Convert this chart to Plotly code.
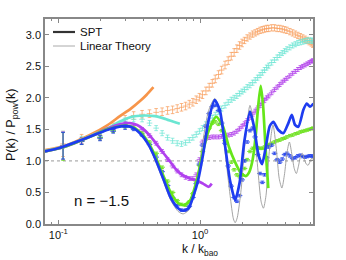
import plotly.graph_objects as go

# ---------------- data ----------------
k_data = [0.108, 0.146, 0.197, 0.244, 0.296,
          0.34, 0.39, 0.44, 0.49, 0.54, 0.59, 0.64, 0.69, 0.74, 0.79, 0.84, 0.89, 0.94, 0.99,
          1.04, 1.10, 1.16, 1.22, 1.28, 1.35, 1.42, 1.50, 1.58, 1.66, 1.74, 1.82, 1.90, 1.98,
          2.06, 2.15, 2.25, 2.35, 2.45, 2.55, 2.65, 2.75, 2.85, 2.95, 3.05,
          3.20, 3.35, 3.50, 3.65, 3.80, 3.95, 4.10,
          4.30, 4.50, 4.70, 4.90, 5.10, 5.30, 5.50, 5.70, 5.90, 6.10, 6.25]

orange_data = [1.27, 1.35, 1.40, 1.55, 1.66,
               1.72, 1.74, 1.75, 1.77, 1.78, 1.80, 1.81, 1.83, 1.85, 1.87, 1.90, 1.93, 1.97, 2.01,
               2.05, 2.11, 2.17, 2.23, 2.30, 2.37, 2.44, 2.52, 2.59, 2.66, 2.72, 2.78, 2.83, 2.87,
               2.91, 2.95, 2.98, 3.01, 3.03, 3.05, 3.07, 3.08, 3.09, 3.10, 3.10,
               3.11, 3.11, 3.10, 3.10, 3.09, 3.08, 3.07,
               3.05, 3.03, 3.01, 2.99, 2.97, 2.95, 2.93, 2.91, 2.89, 2.87, 2.85]
orange_err = [0.20, 0.07, 0.05, 0.05, 0.06,
              0.06, 0.06, 0.06, 0.06, 0.06, 0.06, 0.06, 0.06, 0.06, 0.06, 0.06, 0.06, 0.06, 0.06,
              0.06, 0.06, 0.06, 0.06, 0.06, 0.06, 0.06, 0.06, 0.06, 0.06, 0.06, 0.06, 0.06, 0.06,
              0.05, 0.05, 0.05, 0.05, 0.05, 0.05, 0.05, 0.05, 0.05, 0.05, 0.05,
              0.05, 0.05, 0.05, 0.05, 0.05, 0.05, 0.05,
              0.05, 0.05, 0.05, 0.05, 0.05, 0.05, 0.05, 0.05, 0.05, 0.05, 0.05]

cyan_data = [1.25, 1.33, 1.39, 1.53, 1.63,
             1.66, 1.66, 1.60, 1.52, 1.44, 1.37, 1.32, 1.28, 1.27, 1.29, 1.33, 1.37, 1.42, 1.47,
             1.52, 1.58, 1.63, 1.68, 1.73, 1.78, 1.83, 1.88, 1.93, 1.97, 2.00, 2.03, 2.07, 2.10,
             2.13, 2.17, 2.20, 2.24, 2.28, 2.32, 2.36, 2.40, 2.44, 2.48, 2.51,
             2.56, 2.60, 2.64, 2.68, 2.71, 2.74, 2.77,
             2.80, 2.83, 2.85, 2.87, 2.88, 2.89, 2.90, 2.91, 2.91, 2.91, 2.90]
cyan_err = [0.22, 0.06, 0.04, 0.04, 0.05,
            0.04, 0.04, 0.04, 0.04, 0.04, 0.04, 0.04, 0.04, 0.04, 0.04, 0.04, 0.04, 0.04, 0.04,
            0.04, 0.04, 0.04, 0.04, 0.04, 0.04, 0.04, 0.04, 0.04, 0.04, 0.04, 0.04, 0.04, 0.04,
            0.04, 0.04, 0.04, 0.04, 0.04, 0.04, 0.04, 0.04, 0.04, 0.04, 0.04,
            0.04, 0.04, 0.04, 0.04, 0.04, 0.04, 0.04,
            0.04, 0.04, 0.04, 0.04, 0.04, 0.04, 0.04, 0.04, 0.04, 0.04, 0.04]

purple_data = [1.24, 1.32, 1.37, 1.50, 1.58,
               1.56, 1.50, 1.40, 1.28, 1.15, 1.02, 0.92, 0.84, 0.78, 0.74, 0.72, 0.72, 0.78, 1.02,
               1.30, 1.36, 1.37, 1.38, 1.38, 1.38, 1.39, 1.40, 1.41, 1.42, 1.44, 1.47, 1.51, 1.55,
               1.59, 1.64, 1.69, 1.74, 1.79, 1.84, 1.88, 1.92, 1.96, 2.00, 2.03,
               2.08, 2.13, 2.17, 2.21, 2.25, 2.28, 2.31,
               2.35, 2.39, 2.42, 2.45, 2.48, 2.50, 2.52, 2.54, 2.56, 2.58, 2.59]
purple_err = [0.22, 0.05, 0.04, 0.04, 0.04,
              0.03, 0.03, 0.03, 0.03, 0.03, 0.03, 0.03, 0.03, 0.03, 0.03, 0.03, 0.03, 0.03, 0.03,
              0.03, 0.03, 0.03, 0.03, 0.03, 0.03, 0.03, 0.03, 0.03, 0.03, 0.03, 0.03, 0.03, 0.03,
              0.03, 0.03, 0.03, 0.03, 0.03, 0.03, 0.03, 0.03, 0.03, 0.03, 0.03,
              0.03, 0.03, 0.03, 0.03, 0.03, 0.03, 0.03,
              0.03, 0.03, 0.03, 0.03, 0.03, 0.03, 0.03, 0.03, 0.03, 0.03, 0.03]

green_data = [1.23, 1.31, 1.37, 1.48, 1.55,
              1.52, 1.44, 1.30, 1.12, 0.90, 0.68, 0.50, 0.37, 0.31, 0.30, 0.35, 0.48, 0.68, 0.93,
              1.15, 1.38, 1.52, 1.60, 1.62, 1.58, 1.48, 1.32, 1.15, 0.98, 0.86, 0.78, 0.75, 0.78,
              0.88, 1.02, 1.15, 1.20, 1.21, 1.21, 1.20, 1.20, 1.22, 1.24, 1.26,
              1.28, 1.30, 1.32, 1.33, 1.35, 1.36, 1.38,
              1.40, 1.41, 1.43, 1.44, 1.46, 1.47, 1.48, 1.49, 1.50, 1.51, 1.52]
green_err = [0.22, 0.05, 0.04, 0.03, 0.03,
             0.02, 0.02, 0.02, 0.02, 0.02, 0.02, 0.02, 0.02, 0.02, 0.02, 0.02, 0.02, 0.02, 0.02,
             0.02, 0.02, 0.02, 0.02, 0.02, 0.02, 0.02, 0.02, 0.02, 0.02, 0.02, 0.02, 0.02, 0.02,
             0.02, 0.02, 0.02, 0.02, 0.02, 0.02, 0.02, 0.02, 0.02, 0.02, 0.02,
             0.02, 0.02, 0.02, 0.02, 0.02, 0.02, 0.02,
             0.02, 0.02, 0.02, 0.02, 0.02, 0.02, 0.02, 0.02, 0.02, 0.02, 0.02]

blue_data = [1.24, 1.31, 1.36, 1.47, 1.53,
             1.50, 1.41, 1.26, 1.06, 0.83, 0.61, 0.42, 0.29, 0.22, 0.22, 0.28, 0.42, 0.64, 0.95,
             1.25, 1.55, 1.75, 1.86, 1.88, 1.80, 1.60, 1.28, 0.92, 0.60, 0.42, 0.36, 0.45, 0.70,
             1.00, 1.30, 1.48, 1.52, 1.38, 1.10, 0.80, 0.66, 0.78, 1.05, 1.22,
             1.25, 1.12, 1.02, 0.98, 1.03, 1.10, 1.12,
             1.08, 1.04, 1.05, 1.08, 1.09, 1.07, 1.06, 1.07, 1.08, 1.08, 1.07]
blue_err = [0.21, 0.05, 0.04, 0.03, 0.03,
            0.02, 0.02, 0.02, 0.02, 0.02, 0.02, 0.02, 0.02, 0.02, 0.02, 0.02, 0.02, 0.02, 0.02,
            0.02, 0.02, 0.02, 0.02, 0.02, 0.02, 0.02, 0.02, 0.02, 0.02, 0.02, 0.02, 0.02, 0.02,
            0.02, 0.02, 0.02, 0.02, 0.02, 0.02, 0.02, 0.02, 0.02, 0.02, 0.02,
            0.02, 0.02, 0.02, 0.02, 0.02, 0.02, 0.02,
            0.02, 0.02, 0.02, 0.02, 0.02, 0.02, 0.02, 0.02, 0.02, 0.02, 0.02]

# SPT predictions
orange_spt_k = [0.0805, 0.1115, 0.167, 0.22, 0.272, 0.325, 0.377, 0.42, 0.469]
orange_spt = [1.17, 1.24, 1.41, 1.56, 1.71, 1.83, 1.95, 2.05, 2.17]

cyan_spt_k = [0.0805, 0.11, 0.17, 0.22, 0.27, 0.33, 0.40, 0.48, 0.56, 0.65, 0.72]
cyan_spt = [1.16, 1.23, 1.40, 1.51, 1.62, 1.70, 1.72, 1.71, 1.67, 1.62, 1.59]

purple_spt_k = [0.0805, 0.11, 0.17, 0.22, 0.28, 0.32, 0.36, 0.40, 0.45, 0.52, 0.60,
                0.68, 0.76, 0.85, 0.95, 1.05, 1.15, 1.21]
purple_spt = [1.15, 1.22, 1.39, 1.51, 1.59, 1.60, 1.57, 1.50, 1.38, 1.20, 1.02,
              0.86, 0.77, 0.72, 0.69, 0.64, 0.59, 0.64]

green_spt_k = [0.0805, 0.11, 0.17, 0.22, 0.27, 0.30, 0.34, 0.38, 0.43, 0.48, 0.55, 0.62,
               0.70, 0.77, 0.85, 0.95, 1.05, 1.15, 1.30, 1.45, 1.60, 1.75, 1.95, 2.10,
               2.22, 2.35, 2.47, 2.58, 2.68, 2.78, 2.90, 3.03]
green_spt = [1.15, 1.22, 1.39, 1.50, 1.55, 1.56, 1.53, 1.45, 1.30, 1.09, 0.77, 0.50,
             0.33, 0.30, 0.37, 0.70, 1.15, 1.48, 1.70, 1.55, 1.22, 1.00, 0.80, 0.76,
             0.82, 1.02, 1.40, 1.90, 2.19, 1.90, 1.20, 0.57]

blue_spt_k = [0.0805, 0.10, 0.13, 0.17, 0.22, 0.27, 0.30, 0.34, 0.38, 0.43, 0.48, 0.55,
              0.62, 0.70, 0.76, 0.83, 0.90, 0.97, 1.05, 1.15, 1.27, 1.38, 1.50, 1.63,
              1.77, 1.90, 2.05, 2.25, 2.40, 2.58, 2.74, 2.90, 3.10, 3.29, 3.57, 3.87,
              4.20, 4.44, 4.68, 4.94, 5.36, 5.66, 5.97, 6.31]
blue_spt = [1.15, 1.20, 1.29, 1.39, 1.49, 1.545, 1.555, 1.52, 1.43, 1.27, 1.05, 0.72,
            0.42, 0.25, 0.21, 0.25, 0.45, 0.70, 1.10, 1.65, 1.965, 1.80, 1.25, 0.68,
            0.38, 0.65, 1.30, 1.78, 1.55, 1.10, 0.95, 1.20, 1.55, 1.62, 1.49, 1.44,
            1.60, 1.73, 1.57, 1.54, 1.81, 1.91, 1.86, 1.91]

# linear theory
lin_k = [0.0805, 0.10, 0.13, 0.17, 0.22, 0.27, 0.30, 0.34, 0.38, 0.43, 0.48, 0.55,
         0.62, 0.70, 0.76, 0.83, 0.90, 0.97, 1.05, 1.15, 1.27, 1.38, 1.50, 1.63,
         1.72, 1.77, 1.83, 1.95, 2.08, 2.25, 2.40, 2.55, 2.70, 2.80, 2.92, 3.08,
         3.27, 3.45, 3.62, 3.78, 3.95, 4.10, 4.27, 4.45, 4.62, 4.78, 4.95, 5.10,
         5.27, 5.45, 5.62, 5.78, 5.95, 6.12, 6.31]
lin_p = [1.15, 1.20, 1.29, 1.39, 1.49, 1.54, 1.545, 1.51, 1.42, 1.25, 1.02, 0.68,
         0.38, 0.20, 0.16, 0.22, 0.45, 0.82, 1.33, 1.80, 1.99, 1.80, 1.15, 0.45,
         0.08, 0.02, 0.10, 0.55, 1.30, 1.88, 1.55, 0.90, 0.35, 0.25, 0.45, 1.15,
         1.57, 1.20, 0.72, 0.57, 0.80, 1.12, 1.30, 1.10, 0.88, 0.80, 0.92, 1.06,
         1.12, 1.02, 0.95, 0.93, 0.98, 1.04, 1.02]

legend_labels = ["SPT", "Linear Theory"]
n_label = "n = \u22121.5"

# ---------------- figure ----------------
FONT = "Liberation Sans, Arial, sans-serif"
W, H = 346, 260
ML, MR, MT, MB = 45, 33, 19, 36
PW, PH = W - ML - MR, H - MT - MB


def px(xp):
    return (xp - ML) / PW


def py(yp):
    return (H - MB - yp) / PH


fig = go.Figure()

data_sets = [
    (orange_data, orange_err, "rgba(248,160,96,0.75)"),
    (cyan_data, cyan_err, "rgba(110,230,212,0.75)"),
    (purple_data, purple_err, "rgba(180,70,235,0.85)"),
    (green_data, green_err, "rgba(110,225,30,0.9)"),
    (blue_data, blue_err, "rgba(40,70,235,0.9)"),
]
for vals, errs, col in data_sets:
    fig.add_trace(go.Scatter(
        x=k_data, y=vals, mode="markers", showlegend=False, hoverinfo="skip",
        marker=dict(symbol="line-ew-open", size=4, color=col, line=dict(width=1, color=col)),
        error_y=dict(type="data", array=errs, visible=True, color=col, thickness=1, width=1.8),
    ))

fig.add_trace(go.Scatter(x=lin_k, y=lin_p, mode="lines", showlegend=False, hoverinfo="skip",
                         line=dict(color="#9a9a9a", width=0.9, shape="spline", smoothing=0.7)))

spt_sets = [
    (orange_spt_k, orange_spt, "#F7954A"),
    (cyan_spt_k, cyan_spt, "#6BE6D2"),
    (purple_spt_k, purple_spt, "#B040EE"),
    (green_spt_k, green_spt, "#66E61A"),
    (blue_spt_k, blue_spt, "#1E3CF0"),
]
for kk, vv, col in spt_sets:
    fig.add_trace(go.Scatter(x=kk, y=vv, mode="lines", showlegend=False, hoverinfo="skip",
                             line=dict(color=col, width=2.7, shape="spline", smoothing=0.6)))

fig.add_shape(type="line", xref="paper", yref="y", x0=0, x1=1, y0=1, y1=1,
              line=dict(color="#999999", width=1, dash="dot"), layer="below")

# hand-drawn legend (inside, top-left)
leg_styles = [("#333333", 2.2, 32), ("#aaaaaa", 1.0, 46)]
for label, (col, lw, yp) in zip(legend_labels, leg_styles):
    fig.add_shape(type="line", xref="paper", yref="paper", x0=px(53), x1=px(75),
                  y0=py(yp), y1=py(yp), line=dict(color=col, width=lw))
    fig.add_annotation(text=label, xref="paper", yref="paper", x=px(78), y=py(yp),
                       xanchor="left", yanchor="middle", showarrow=False,
                       font=dict(family=FONT, size=11.5, color="#111"))

fig.add_annotation(text=n_label, xref="paper", yref="paper", x=px(101), y=py(200),
                   xanchor="center", yanchor="middle",
                   showarrow=False, font=dict(family=FONT, size=15, color="#111"))
fig.add_annotation(text="k / k<sub>bao</sub>", xref="paper", yref="paper", x=px(200), y=py(240),
                   xanchor="center", yanchor="top", showarrow=False,
                   font=dict(family=FONT, size=12, color="#111"))
fig.add_annotation(text="P(k) / P<sub>pow</sub>(k)", xref="paper", yref="paper", x=px(12), y=py(125),
                   xanchor="center", yanchor="middle", textangle=-90, showarrow=False,
                   font=dict(family=FONT, size=12.5, color="#111"))

fig.update_layout(
    width=W, height=H,
    margin=dict(l=ML, r=MR, t=MT, b=MB),
    paper_bgcolor="white", plot_bgcolor="white",
    font=dict(family=FONT, size=11, color="#111"),
    showlegend=False,
)
fig.update_xaxes(type="log", range=[-1.094, 0.797], showgrid=False, zeroline=False,
                 showline=True, linecolor="#888888", linewidth=1.5, mirror="allticks",
                 ticks="inside", ticklen=4, tickcolor="#888888",
                 tickvals=[0.1, 1], ticktext=["10<sup>-1</sup>", "10<sup>0</sup>"],
                 tickfont=dict(family=FONT, size=11, color="#111"),
                 minor=dict(ticks="inside", ticklen=2, tickcolor="#888888",
                            tickvals=[0.09, 0.2, 0.3, 0.4, 0.5, 0.6, 0.7, 0.8, 0.9, 2, 3, 4, 5, 6]))
fig.update_yaxes(range=[0, 3.25], showgrid=False, zeroline=False,
                 showline=True, linecolor="#888888", linewidth=1.5, mirror="allticks",
                 ticks="inside", ticklen=4, tickcolor="#888888",
                 tickvals=[0, 0.5, 1.0, 1.5, 2.0, 2.5, 3.0], tickformat=".1f",
                 tickfont=dict(family=FONT, size=11, color="#111"))

fig.write_html("out.html", config={"displayModeBar": False},
               post_script="document.body.style.margin='0';")
